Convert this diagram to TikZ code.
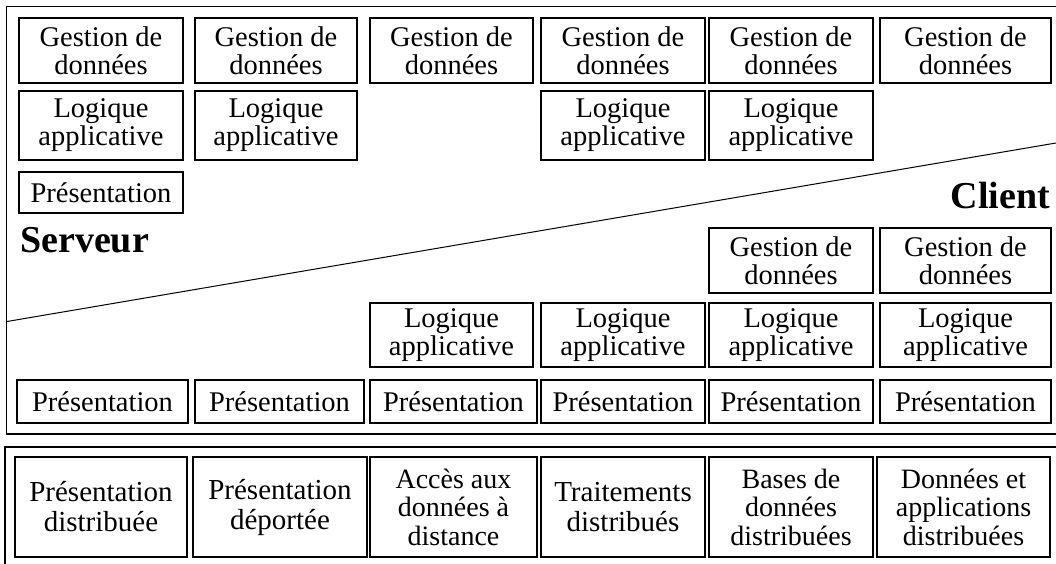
\documentclass[tikz,border=0pt]{standalone}
\usepackage{fontspec}
\setmainfont{Liberation Serif}
\begin{document}
\begin{tikzpicture}[x=1pt,y=-1pt,
  box/.style={draw, line width=2.2pt, inner sep=0pt, align=center,
    font=\fontsize{28.5}{28}\selectfont},
  kind/.style={draw, line width=2.2pt, inner sep=0pt, align=center,
    font=\fontsize{29}{30}\selectfont},
  kindthree/.style={draw, line width=2.2pt, inner sep=0pt, align=center,
    font=\fontsize{28}{28.5}\selectfont},
  side/.style={inner sep=0pt, font=\fontsize{38}{40}\selectfont\bfseries},
  frame/.style={line width=1.1pt},
  heavyframe/.style={line width=2.4pt}]
\useasboundingbox (0,0) rectangle (1056,564);
\clip (0,0) rectangle (1056,564);

% outer frames
\draw[frame] (1070,6.5) -- (6.5,6.5) -- (6.5,434) -- (1070,434);
\draw[heavyframe] (1070,447) -- (5,447) -- (5,580);

% client / server boundary
\coordinate (dl) at (7,321.5);
\coordinate (dr) at (1056,143);
\draw[line width=1pt] (dl) -- (dr);

\node[side, anchor=base west] (srv) at (20,252) {Serveur};
\node[side, anchor=base east] (cli) at (1050,208) {Client};

% server side: data management
\foreach \n/\cx/\w in {1/101/164, 2/276/162, 3/451.5/163, 4/623/164, 5/791/164, 6/965.5/171}
  \node[box, minimum width=\w, minimum height=65] (sg\n) at (\cx,50.5) {Gestion de\\données};

% server side: application logic
\foreach \n/\cx/\w in {1/101/164, 2/276/162, 4/623/164, 5/791/164}
  \node[box, minimum width=\w, minimum height=69] (sl\n) at (\cx,125.5) {Logique\\applicative};

% server side: presentation
\node[box, minimum width=164, minimum height=41] (sp1) at (101,192.5) {Présentation};

% client side: data management
\foreach \n/\cx/\w in {5/791/164, 6/965.5/171}
  \node[box, minimum width=\w, minimum height=65] (cg\n) at (\cx,260.5) {Gestion de\\données};

% client side: application logic
\foreach \n/\cx/\w in {3/451.5/163, 4/623/164, 5/791/164, 6/965.5/171}
  \node[box, minimum width=\w, minimum height=64] (cl\n) at (\cx,335) {Logique\\applicative};

% client side: presentation
\foreach \n/\cx/\w in {1/102.5/171, 2/279.5/169, 3/453.5/167, 4/623/164, 5/791/164, 6/965.5/171}
  \node[box, minimum width=\w, minimum height=43] (cp\n) at (\cx,401.5) {Présentation};

% distribution models
\node[kind, minimum width=172, minimum height=100] (m1) at (101,507) {Présentation\\distribuée};
\node[kind, minimum width=174, minimum height=100] (m2) at (280,507) {Présentation\\déportée};
\node[kindthree, minimum width=167, minimum height=100] (m3) at (453.5,507) {Accès aux\\données à\\distance};
\node[kind, minimum width=164, minimum height=100] (m4) at (623,507) {Traitements\\distribués};
\node[kindthree, minimum width=164, minimum height=100] (m5) at (791,507) {Bases de\\données\\distribuées};
\node[kindthree, minimum width=173, minimum height=100] (m6) at (963.5,507) {Données et\\applications\\distribuées};
\end{tikzpicture}
\end{document}
